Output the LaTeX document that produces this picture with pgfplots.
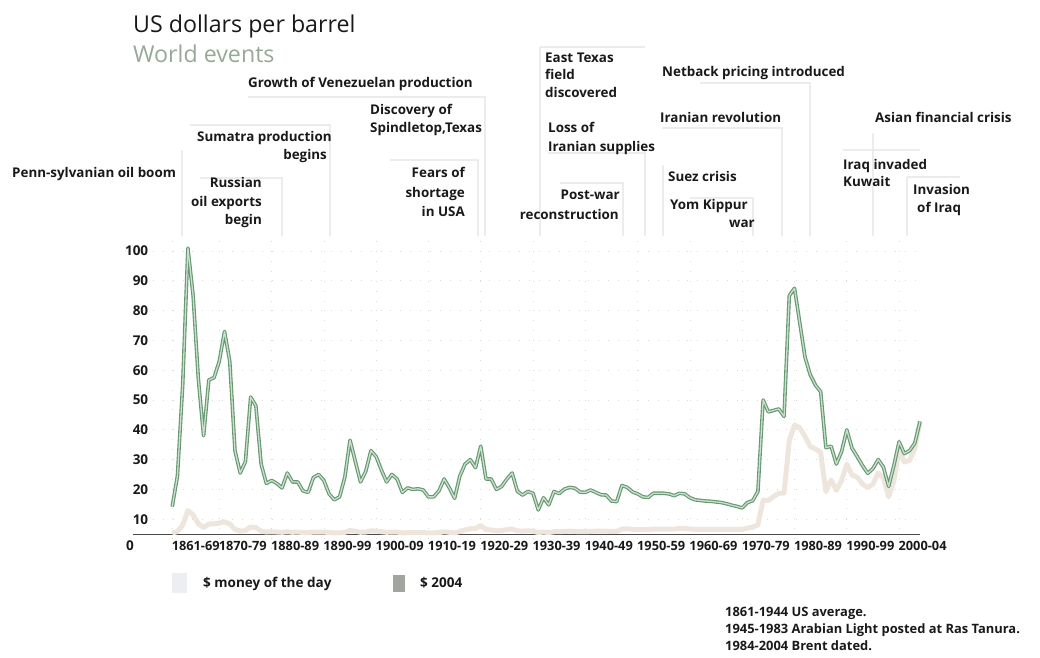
\documentclass[border=0pt]{standalone}
\usepackage{fontspec}
\setmainfont{Open Sans}
\usepackage{pgfplots}
\pgfplotsset{compat=1.18}
\usepackage{pgfplotstable}
\definecolor{realout}{RGB}{104,152,114}
\definecolor{realin}{RGB}{200,224,204}
\definecolor{nomcol}{RGB}{238,230,221}
\definecolor{worldev}{RGB}{150,168,152}
\definecolor{leader}{RGB}{236,236,236}
\definecolor{txt}{RGB}{25,25,25}

\pgfplotstableread{
year real nom
1861 14.2 5.3
1862 24.5 5.9
1863 55 8.0
1864 101 12.9
1865 85 11.4
1866 57 8.5
1867 38 7.2
1868 56.7 8.4
1869 57.5 8.4
1870 63 8.7
1871 73 9.1
1872 63 8.4
1873 33 6.6
1874 25.5 6.0
1875 29.3 6.2
1876 51 7.4
1877 48 7.2
1878 28.5 6.0
1879 22 5.7
1880 23 5.8
1881 22 5.7
1882 20.5 5.6
1883 25.5 5.8
1884 22.5 5.6
1885 22.5 5.7
1886 19.5 5.5
1887 19 5.5
1888 24 5.7
1889 25 5.7
1890 23 5.7
1891 18.5 5.5
1892 16.5 5.4
1893 17.5 5.4
1894 24 5.6
1895 36.5 6.2
1896 29.5 6.0
1897 22.5 5.6
1898 26 5.7
1899 33 6.1
1900 31 6.0
1901 26.5 5.8
1902 22.5 5.6
1903 25 5.7
1904 23.5 5.7
1905 19 5.4
1906 20.5 5.5
1907 20 5.5
1908 20.2 5.5
1909 19.8 5.5
1910 17.5 5.4
1911 17.5 5.4
1912 19.5 5.5
1913 23.5 5.8
1914 20.5 5.6
1915 17 5.4
1916 24.5 5.9
1917 28.5 6.4
1918 30 6.8
1919 27.3 6.8
1920 34.5 7.9
1921 23.5 6.5
1922 23.5 6.4
1923 20 6.1
1924 21 6.2
1925 23.5 6.5
1926 25.5 6.7
1927 19.4 6.1
1928 18.1 6.0
1929 19.3 6.1
1930 18.7 6.0
1931 13.1 5.5
1932 17.2 5.7
1933 14.8 5.5
1934 19.3 5.8
1935 18.6 5.8
1936 20.1 5.9
1937 20.7 6.0
1938 20.4 5.9
1939 19.1 5.8
1940 19 5.8
1941 19.8 5.9
1942 19 6.0
1943 18.2 6.0
1944 18.1 6.0
1945 16.1 5.9
1946 15.9 5.9
1947 21.3 6.7
1948 20.7 6.8
1949 19.2 6.6
1950 18.5 6.5
1951 17.5 6.5
1952 17.3 6.5
1953 18.7 6.7
1954 18.7 6.7
1955 18.7 6.7
1956 18.5 6.7
1957 17.9 6.7
1958 18.7 6.9
1959 18.5 6.9
1960 17.2 6.7
1961 16.5 6.6
1962 16.3 6.6
1963 16.1 6.6
1964 16 6.6
1965 15.8 6.6
1966 15.6 6.6
1967 15.2 6.6
1968 14.7 6.6
1969 14.3 6.6
1970 13.8 6.6
1971 15.6 7.0
1972 16.2 7.3
1973 19.3 8.1
1974 50 16.4
1975 46 16.3
1976 46.5 17.6
1977 47 18.7
1978 44.5 18.8
1979 85 36.4
1980 87.5 41.6
1981 76 40.7
1982 64.5 37.8
1983 58.5 34.4
1984 55 33.6
1985 52.8 32.4
1986 34 19.2
1987 34.5 23.2
1988 28.5 19.7
1989 32.7 23.0
1990 40 28.5
1991 33.8 24.8
1992 31 24.1
1993 28 21.8
1994 25.4 20.6
1995 27 21.8
1996 30 25.5
1997 27.5 23.9
1998 21 17.5
1999 28 22.8
2000 36 33.3
2001 32 29.2
2002 33 29.8
2003 35.5 33.6
2004 42.8 42.8
}\oildata

\newcommand\evfont{\fontsize{13.4}{17.5}\selectfont\bfseries}
\newcommand\lineL[3]{\node[anchor=base west,inner sep=0,font=\evfont,text=txt] at (#1,#2+4.7) {#3};}
\newcommand\lineR[3]{\node[anchor=base east,inner sep=0,font=\evfont,text=txt] at (#1,#2+4.7) {#3};}

\begin{document}
\begin{tikzpicture}
\path[use as bounding box] (0,0) rectangle (1040pt,657pt);
\begin{axis}[
  at={(133pt,108pt)}, anchor=south west,
  scale only axis, width=787pt, height=312.9pt,
  xmin=1853.5, xmax=2004, ymin=0, ymax=105,
  axis line style={draw=none}, tick style={draw=none},
  xtick={1861,1870,1880,1890,1900,1910,1920,1930,1940,1950,1960,1970,1980,1990,2000},
  xticklabels={1861-69,1870-79,1880-89,1890-99,1900-09,1910-19,1920-29,1930-39,1940-49,1950-59,1960-69,1970-79,1980-89,1990-99,2000-04},
  xticklabel style={anchor=west, yshift=3pt, xshift=-4pt, font=\fontsize{12.8}{14}\selectfont\bfseries, text=txt},
  ytick={10,20,30,40,50,60,70,80,90,100},
  yticklabel style={anchor=east, xshift=18.7pt, font=\fontsize{13.5}{16}\selectfont\bfseries, text=txt},
  /pgf/number format/assume math mode=true,
  grid=major,
  major grid style={draw=gray!28, line width=0.7pt, dash pattern=on 1pt off 8.9pt},
  clip=false,
]
\draw[gray!60!black, line width=0.8pt] (axis cs:1853.5,5) -- (axis cs:2004,5);
\addplot[nomcol, line width=5pt, line join=round] table[x=year,y=nom]{\oildata};
\addplot[realout, line width=3.6pt, line join=round] table[x=year,y=real]{\oildata};
\addplot[realin, line width=1.3pt, line join=round] table[x=year,y=real]{\oildata};
\node[font=\fontsize{13.5}{16}\selectfont\bfseries, text=txt] at (axis cs:1853.5,1) [xshift=-3pt] {0};
\end{axis}
\begin{scope}[x=1pt,y=-1pt,yshift=657pt]
% leader lines
\begin{scope}[leader, line width=1.2pt]
\draw (182,150) -- (182,236);
\draw (200,178) -- (282,178) -- (282,236);
\draw (190,125) -- (330,125) -- (330,236);
\draw (248,97) -- (485,97) -- (485,236);
\draw (390,160) -- (478,160) -- (478,236);
\draw (540,47) -- (540,236);
\draw (540,47) -- (645,47);
\draw (548,153) -- (645,153) -- (645,236);
\draw (560,183) -- (623,183) -- (623,236);
\draw (700,83) -- (810,83) -- (810,236);
\draw (662,128) -- (782,128) -- (782,236);
\draw (663,165) -- (663,236);
\draw (690,198) -- (753,198) -- (753,236);
\draw (873,133) -- (873,236);
\draw (843,150) -- (920,150);
\draw (907,177) -- (907,236);
\draw (907,177) -- (960,177);
\end{scope}
% titles
\node[anchor=base west,inner sep=0,font=\fontsize{23.2}{26}\selectfont,text=txt] at (133,33) {US dollars per barrel};
\node[anchor=base west,inner sep=0,font=\fontsize{23.2}{26}\selectfont,text=worldev] at (133,63) {World events};
% events
\lineL{12}{173}{Penn-sylvanian oil boom}
\lineR{262}{183}{Russian}
\lineR{262}{202}{oil exports}
\lineR{262}{220}{begin}
\lineL{197}{137}{Sumatra production}
\lineR{327}{155}{begins}
\lineL{248}{83}{Growth of Venezuelan production}
\lineL{370}{110}{Discovery of}
\lineL{370}{128}{Spindletop,Texas}
\lineR{465}{173}{Fears of}
\lineR{465}{193}{shortage}
\lineR{465}{212}{in USA}
\lineL{545}{58}{East Texas}
\lineL{545}{75}{field}
\lineL{545}{93}{discovered}
\lineL{548}{128}{Loss of}
\lineL{548}{147}{Iranian supplies}
\lineR{620}{195}{Post-war}
\lineR{619}{215}{reconstruction}
\lineL{662}{72}{Netback pricing introduced}
\lineL{660}{118}{Iranian revolution}
\lineL{668}{177}{Suez crisis}
\lineL{670}{205}{Yom Kippur}
\lineR{755}{223}{war}
\lineL{875}{118}{Asian financial crisis}
\lineL{843}{165}{Iraq invaded}
\lineL{843}{182}{Kuwait}
\lineL{913}{190}{Invasion}
\lineL{917}{208}{of Iraq}
% legend
\fill[fill={rgb,255:red,236;green,238;blue,241}] (172,573) rectangle (187,593);
\node[anchor=base west,inner sep=0,font=\fontsize{13.5}{15}\selectfont\bfseries,text=txt] at (203,587.6) {\$ money of the day};
\fill[fill={rgb,255:red,160;green,166;blue,158}] (393,575) rectangle (405,592);
\node[anchor=base west,inner sep=0,font=\fontsize{13.5}{15}\selectfont\bfseries,text=txt] at (420,587.6) {\$ 2004};
% footnote
\node[anchor=base west,inner sep=0,font=\fontsize{12.9}{14}\selectfont\bfseries,text=txt] at (725,616.5) {1861-1944 US average.};
\node[anchor=base west,inner sep=0,font=\fontsize{12.9}{14}\selectfont\bfseries,text=txt] at (725,633.5) {1945-1983 Arabian Light posted at Ras Tanura.};
\node[anchor=base west,inner sep=0,font=\fontsize{12.9}{14}\selectfont\bfseries,text=txt] at (725,650.5) {1984-2004 Brent dated.};
\end{scope}
\end{tikzpicture}
\end{document}
